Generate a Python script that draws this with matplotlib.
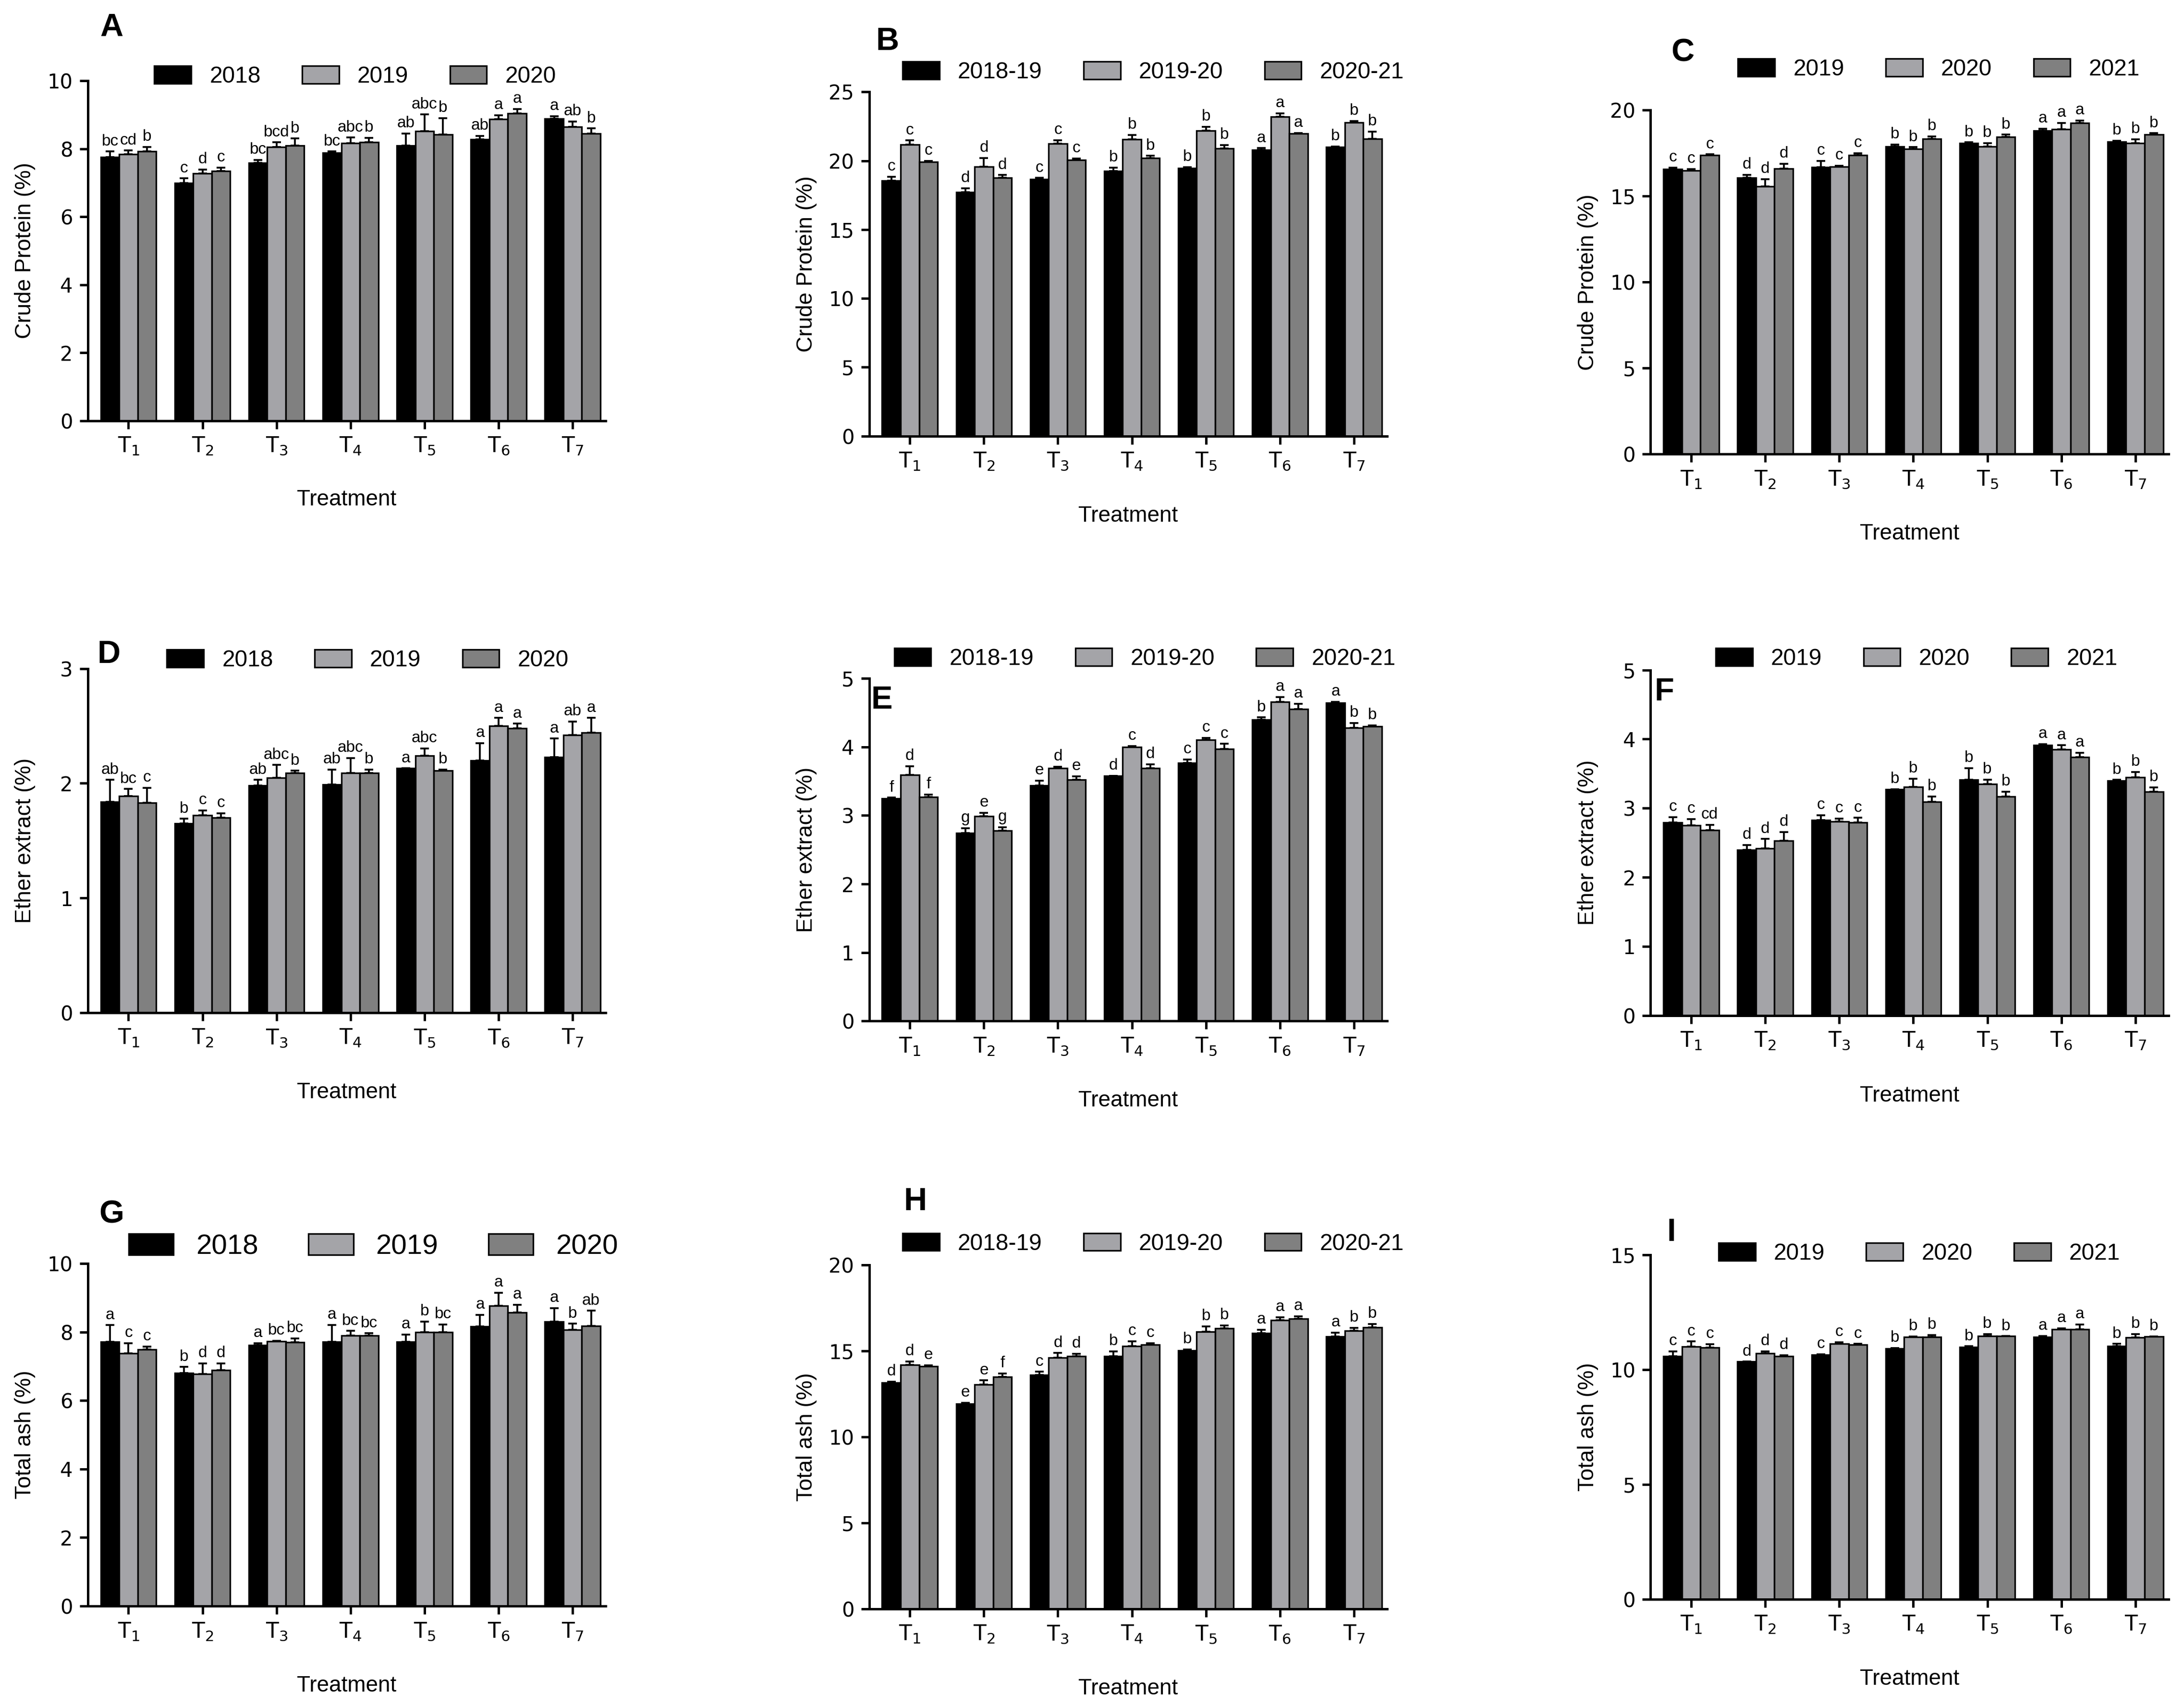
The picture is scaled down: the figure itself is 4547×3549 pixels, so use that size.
import numpy as np
import matplotlib
matplotlib.use("Agg")
from matplotlib import pyplot as plt

plt.rcParams['font.family'] = ['Liberation Sans Narrow', 'Liberation Sans', 'DejaVu Sans']
plt.rcParams['mathtext.default'] = 'regular'

treatments = ['T$_{1}$', 'T$_{2}$', 'T$_{3}$', 'T$_{4}$', 'T$_{5}$', 'T$_{6}$', 'T$_{7}$']
years_a = ['2018', '2019', '2020']
years_b = ['2018-19', '2019-20', '2020-21']
years_c = ['2019', '2020', '2021']
colors = ['#000000', '#a4a4a8', '#808080']

# ---- crude protein ----
cp_a = [[7.76, 6.99, 7.59, 7.88, 8.09, 8.28, 8.88],
        [7.84, 7.27, 8.05, 8.16, 8.52, 8.87, 8.64],
        [7.92, 7.34, 8.09, 8.19, 8.42, 9.04, 8.45]]
cp_a_err = [[0.16, 0.14, 0.08, 0.04, 0.36, 0.10, 0.08],
            [0.11, 0.12, 0.14, 0.17, 0.49, 0.12, 0.16],
            [0.13, 0.11, 0.21, 0.13, 0.48, 0.13, 0.15]]
cp_a_let = [['bc', 'c', 'bc', 'bc', 'ab', 'ab', 'a'],
            ['cd', 'd', 'bcd', 'abc', 'abc', 'a', 'ab'],
            ['b', 'c', 'b', 'b', 'b', 'a', 'b']]

cp_b = [[18.57, 17.70, 18.67, 19.25, 19.45, 20.80, 20.99],
        [21.17, 19.55, 21.23, 21.55, 22.20, 23.19, 22.78],
        [19.92, 18.77, 20.07, 20.18, 20.89, 21.96, 21.58]]
cp_b_err = [[0.27, 0.29, 0.08, 0.26, 0.09, 0.12, 0.06],
            [0.30, 0.64, 0.25, 0.32, 0.28, 0.25, 0.12],
            [0.06, 0.19, 0.09, 0.18, 0.26, 0.06, 0.54]]
cp_b_let = [['c', 'd', 'c', 'b', 'b', 'a', 'b'],
            ['c', 'd', 'c', 'b', 'b', 'a', 'b'],
            ['c', 'd', 'c', 'b', 'b', 'a', 'b']]

cp_c = [[16.56, 16.07, 16.69, 17.89, 18.07, 18.80, 18.17],
        [16.49, 15.56, 16.72, 17.75, 17.89, 18.88, 18.07],
        [17.37, 16.60, 17.37, 18.32, 18.45, 19.24, 18.58]]
cp_c_err = [[0.09, 0.16, 0.35, 0.11, 0.05, 0.11, 0.05],
            [0.09, 0.42, 0.05, 0.09, 0.19, 0.38, 0.23],
            [0.05, 0.28, 0.12, 0.14, 0.12, 0.16, 0.07]]
cp_c_let = [['c', 'd', 'c', 'b', 'b', 'a', 'b'],
            ['c', 'd', 'c', 'b', 'b', 'a', 'b'],
            ['c', 'd', 'c', 'b', 'b', 'a', 'b']]

# ---- ether extract ----
ee_a = [[1.84, 1.65, 1.98, 1.99, 2.13, 2.20, 2.23],
        [1.89, 1.72, 2.05, 2.09, 2.24, 2.50, 2.42],
        [1.83, 1.70, 2.09, 2.09, 2.11, 2.48, 2.44]]
ee_a_err = [[0.19, 0.04, 0.05, 0.13, 0.00, 0.15, 0.16],
            [0.06, 0.045, 0.11, 0.13, 0.065, 0.07, 0.12],
            [0.13, 0.04, 0.02, 0.03, 0.01, 0.04, 0.13]]
ee_a_let = [['ab', 'b', 'ab', 'ab', 'a', 'a', 'a'],
            ['bc', 'c', 'abc', 'abc', 'abc', 'a', 'ab'],
            ['c', 'c', 'b', 'b', 'b', 'a', 'a']]

ee_b = [[3.25, 2.74, 3.44, 3.58, 3.77, 4.40, 4.64],
        [3.59, 2.99, 3.69, 4.00, 4.10, 4.66, 4.28],
        [3.27, 2.78, 3.52, 3.69, 3.97, 4.55, 4.30]]
ee_b_err = [[0.01, 0.075, 0.07, 0.00, 0.045, 0.03, 0.02],
            [0.13, 0.05, 0.02, 0.015, 0.03, 0.07, 0.07],
            [0.035, 0.05, 0.05, 0.055, 0.075, 0.08, 0.015]]
ee_b_let = [['f', 'g', 'e', 'd', 'c', 'b', 'a'],
            ['d', 'e', 'd', 'c', 'c', 'a', 'b'],
            ['f', 'g', 'e', 'd', 'c', 'a', 'b']]

ee_c = [[2.79, 2.40, 2.83, 3.27, 3.41, 3.91, 3.40],
        [2.75, 2.42, 2.81, 3.31, 3.35, 3.85, 3.45],
        [2.68, 2.53, 2.79, 3.09, 3.17, 3.74, 3.24]]
ee_c_err = [[0.08, 0.07, 0.07, 0.005, 0.17, 0.02, 0.01],
            [0.095, 0.135, 0.04, 0.115, 0.065, 0.06, 0.075],
            [0.08, 0.125, 0.07, 0.08, 0.07, 0.06, 0.06]]
ee_c_let = [['c', 'd', 'c', 'b', 'b', 'a', 'b'],
            ['c', 'd', 'c', 'b', 'b', 'a', 'b'],
            ['cd', 'd', 'c', 'b', 'b', 'a', 'b']]

# ---- total ash ----
ta_a = [[7.71, 6.80, 7.61, 7.71, 7.71, 8.16, 8.30],
        [7.37, 6.78, 7.72, 7.90, 7.99, 8.76, 8.07],
        [7.49, 6.89, 7.70, 7.90, 7.99, 8.57, 8.17]]
ta_a_err = [[0.49, 0.18, 0.06, 0.50, 0.22, 0.34, 0.40],
            [0.30, 0.30, 0.02, 0.13, 0.31, 0.38, 0.17],
            [0.08, 0.19, 0.11, 0.06, 0.23, 0.22, 0.45]]
ta_a_let = [['a', 'b', 'a', 'a', 'a', 'a', 'a'],
            ['c', 'd', 'bc', 'bc', 'b', 'a', 'b'],
            ['c', 'd', 'bc', 'bc', 'bc', 'a', 'ab']]

ta_b = [[13.14, 11.93, 13.61, 14.68, 15.03, 16.02, 15.82],
        [14.19, 13.05, 14.61, 15.28, 16.12, 16.79, 16.17],
        [14.10, 13.49, 14.70, 15.37, 16.30, 16.86, 16.36]]
ta_b_err = [[0.07, 0.06, 0.17, 0.30, 0.05, 0.21, 0.23],
            [0.20, 0.23, 0.26, 0.28, 0.31, 0.16, 0.16],
            [0.07, 0.20, 0.14, 0.07, 0.17, 0.15, 0.20]]
ta_b_let = [['d', 'e', 'c', 'b', 'b', 'a', 'a'],
            ['d', 'e', 'd', 'c', 'b', 'a', 'b'],
            ['e', 'f', 'd', 'c', 'b', 'a', 'b']]

ta_c = [[10.60, 10.35, 10.65, 10.93, 10.99, 11.42, 11.04],
        [11.00, 10.72, 11.13, 11.42, 11.46, 11.76, 11.41],
        [10.97, 10.58, 11.09, 11.42, 11.46, 11.76, 11.44]]
ta_c_err = [[0.20, 0.00, 0.02, 0.02, 0.035, 0.055, 0.085],
            [0.23, 0.09, 0.07, 0.035, 0.10, 0.055, 0.14],
            [0.15, 0.05, 0.035, 0.09, 0.00, 0.21, 0.015]]
ta_c_let = [['c', 'd', 'c', 'b', 'b', 'a', 'b'],
            ['c', 'd', 'c', 'b', 'b', 'a', 'b'],
            ['c', 'd', 'c', 'b', 'b', 'a', 'b']]

W, H = 1568.0, 1224.0  # reference layout grid

# letter, values, errors, letters, legend labels, ylabel, ymax, ystep,
# axes left/top/bottom, panel letter xy, legend centre xy, legend size
panels = [
    ('A', cp_a, cp_a_err, cp_a_let, years_a, 'Crude Protein (%)', 10, 2, 63, 58, 302, (80, 20), (255, 55), 11.5),
    ('B', cp_b, cp_b_err, cp_b_let, years_b, 'Crude Protein (%)', 25, 5, 624, 66, 313, (637, 30), (828, 52), 11.5),
    ('C', cp_c, cp_c_err, cp_c_let, years_c, 'Crude Protein (%)', 20, 5, 1185, 79, 326, (1208, 38), (1392, 50), 11.5),
    ('D', ee_a, ee_a_err, ee_a_let, years_a, 'Ether extract (%)', 3, 1, 63, 480, 727, (78, 470), (264, 474), 11.5),
    ('E', ee_b, ee_b_err, ee_b_let, years_b, 'Ether extract (%)', 5, 1, 624, 487, 733, (633, 503), (822, 473), 11.5),
    ('F', ee_c, ee_c_err, ee_c_let, years_c, 'Ether extract (%)', 5, 1, 1185, 481, 729, (1195, 497), (1376, 473), 11.5),
    ('G', ta_a, ta_a_err, ta_a_let, years_a, 'Total ash (%)', 10, 2, 63, 907, 1153, (80, 872), (268, 895), 14),
    ('H', ta_b, ta_b_err, ta_b_let, years_b, 'Total ash (%)', 20, 5, 624, 908, 1155, (657, 863), (828, 893), 11.5),
    ('I', ta_c, ta_c_err, ta_c_let, years_c, 'Total ash (%)', 15, 5, 1185, 901, 1148, (1200, 885), (1378, 900), 11.5),
]

fig = plt.figure(figsize=(4547 / 300, 3549 / 300), dpi=300)
x = np.arange(len(treatments))
bw = 0.25
ax_w = 372

for (tag, vals, errs, lets, labels, ylab, ymax, ystep,
     left, top, bottom, tag_xy, leg_xy, leg_fs) in panels:
    ax = fig.add_axes([left / W, 1 - bottom / H, ax_w / W, (bottom - top) / H])
    for k in range(3):
        v = np.array(vals[k])
        e = np.array(errs[k])
        xs = x + (k - 1) * bw
        ax.bar(xs, v, bw, yerr=[np.zeros(len(v)), e], color=colors[k],
               edgecolor='black', linewidth=0.8, label=labels[k],
               error_kw=dict(ecolor='black', elinewidth=0.9, capsize=2.2, capthick=0.9))
        for xi, vi, ei, li in zip(xs, v, e, lets[k]):
            ax.text(xi, vi + ei + ymax * 0.008, li, ha='center', va='bottom', fontsize=8)
    ax.set_xlim(-0.55, 6.45)
    ax.set_ylim(0, ymax)
    ticks = np.arange(0, ymax + 0.001, ystep)
    ax.set_yticks(ticks)
    ax.set_yticklabels([f'{t:g}' for t in ticks], fontfamily='DejaVu Sans', fontsize=10)
    ax.set_xticks(x)
    ax.set_xticklabels(treatments, fontfamily='DejaVu Sans', fontsize=10.5)
    for s in ['top', 'right']:
        ax.spines[s].set_visible(False)
    for s in ['left', 'bottom']:
        ax.spines[s].set_linewidth(1.2)
    ax.tick_params(width=1.2, length=4)
    ax.set_ylabel(ylab, fontsize=11)
    ax.yaxis.label.set_va('center')
    ax.yaxis.set_label_coords(-0.121, 0.5)
    ax.set_xlabel('Treatment', fontsize=11)
    ax.xaxis.label.set_va('center')
    ax.xaxis.set_label_coords(0.5, -0.232)
    ax.legend(loc='center', bbox_to_anchor=(leg_xy[0] / W, 1 - leg_xy[1] / H),
              bbox_transform=fig.transFigure, ncol=3, frameon=False,
              fontsize=leg_fs, handlelength=1.6, handleheight=0.8,
              handletextpad=0.8, columnspacing=1.8)
    fig.text(tag_xy[0] / W, 1 - tag_xy[1] / H, tag, fontsize=16, fontweight='bold',
             family='Liberation Sans', ha='center', va='center')

fig.savefig('out.png', dpi=300)
